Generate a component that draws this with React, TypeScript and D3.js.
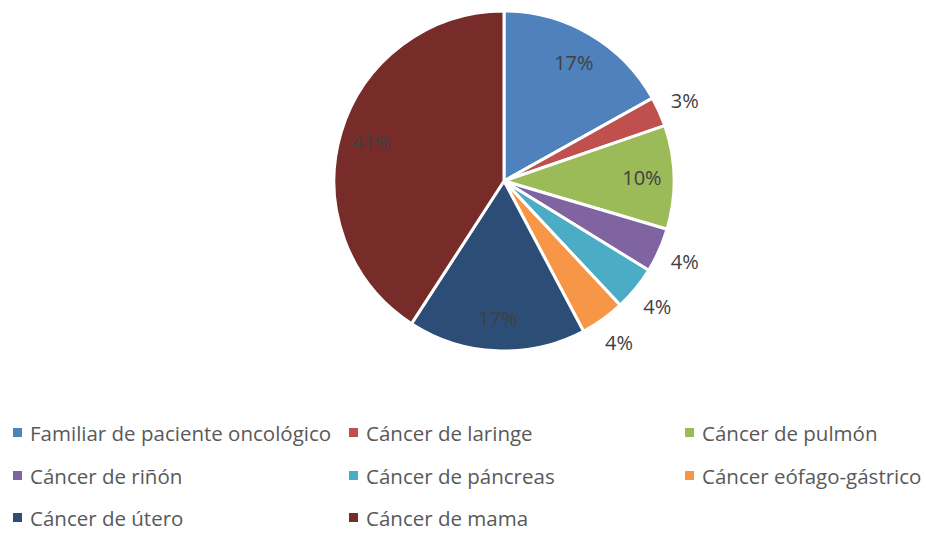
import React from 'react';
import * as d3 from 'd3';

const categories = [
  'Familiar de paciente oncológico',
  'Cáncer de laringe',
  'Cáncer de pulmón',
  'Cáncer de riñón',
  'Cáncer de páncreas',
  'Cáncer eófago-gástrico',
  'Cáncer de útero',
  'Cáncer de mama',
];
const counts = [12, 2, 7, 3, 3, 3, 12, 29];
const colors = ['#4f81bd', '#c0504d', '#9bbb59', '#8064a2', '#4bacc6', '#f79646', '#2c4d75', '#772c2a'];
// which labels sit outside the pie
const outside = [false, true, false, true, true, true, false, false];

const W = 926;
const H = 533;
const cx = 504;
const cy = 181;
const R = 170;
const FONT = "'Open Sans', 'Noto Sans', sans-serif";

export default function App() {
  const total = d3.sum(counts);
  const pie = d3
    .pie<number>()
    .sort(null)
    .value((d) => d);
  const arcs = pie(counts);
  const arc = d3.arc<d3.PieArcDatum<number>>().innerRadius(0).outerRadius(R);
  const inLabel = d3.arc<d3.PieArcDatum<number>>().innerRadius(138).outerRadius(138);
  const outLabel = d3.arc<d3.PieArcDatum<number>>().innerRadius(198).outerRadius(198);

  const legendCols = [13, 349, 685];
  const legendRows = [433, 476, 518];

  return (
    <svg width={W} height={H} style={{ position: 'absolute', left: 0, top: 0 }}>
      <rect width={W} height={H} fill="#ffffff" />
      <g transform={`translate(${cx},${cy})`}>
        {arcs.map((a, i) => (
          <path key={i} d={arc(a) || ''} fill={colors[i]} stroke="#ffffff" strokeWidth={3} strokeLinejoin="round" />
        ))}
        {arcs.map((a, i) => {
          const [x, y] = (outside[i] ? outLabel : inLabel).centroid(a);
          return (
            <text
              key={i}
              x={x}
              y={y}
              textAnchor="middle"
              dominantBaseline="central"
              fontFamily={FONT}
              fontSize={20}
              fill="#404040"
            >
              {Math.round((counts[i] / total) * 100) + '%'}
            </text>
          );
        })}
      </g>
      {categories.map((c, i) => {
        const x = legendCols[i % 3];
        const y = legendRows[Math.floor(i / 3)];
        return (
          <g key={c}>
            <rect x={x} y={y - 5} width={9} height={9} fill={colors[i]} />
            <text
              x={x + 17}
              y={y}
              dominantBaseline="central"
              fontFamily={FONT}
              fontSize={20.5}
              fill="#595959"
            >
              {c}
            </text>
          </g>
        );
      })}
    </svg>
  );
}
